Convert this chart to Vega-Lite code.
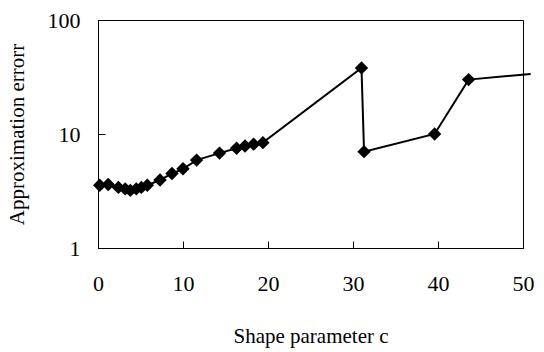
{
  "$schema": "https://vega.github.io/schema/vega-lite/v6.json",
  "width": 425,
  "height": 228,
  "autosize": {"type": "none"},
  "padding": {"left": 98, "top": 20, "right": 21, "bottom": 104},
  "background": "white",
  "config": {
    "view": {"stroke": "black", "strokeWidth": 1},
    "font": "Liberation Serif",
    "axis": {
      "domainColor": "black",
      "tickColor": "black",
      "grid": false,
      "labelFont": "Liberation Serif",
      "titleFont": "Liberation Serif",
      "labelColor": "black",
      "titleColor": "black",
      "labelFontSize": 22,
      "titleFontSize": 21,
      "titleFontWeight": "normal",
      "tickSize": -7
    }
  },
  "data": {
    "values": [
      {"c": 0.2, "err": 3.55, "marker": true},
      {"c": 1.2, "err": 3.6, "marker": true},
      {"c": 2.4, "err": 3.4, "marker": true},
      {"c": 3.2, "err": 3.3, "marker": true},
      {"c": 3.8, "err": 3.2, "marker": true},
      {"c": 4.5, "err": 3.3, "marker": true},
      {"c": 5.1, "err": 3.4, "marker": true},
      {"c": 5.8, "err": 3.55, "marker": true},
      {"c": 7.3, "err": 3.95, "marker": true},
      {"c": 8.7, "err": 4.5, "marker": true},
      {"c": 10.0, "err": 4.95, "marker": true},
      {"c": 11.6, "err": 5.9, "marker": true},
      {"c": 14.3, "err": 6.8, "marker": true},
      {"c": 16.3, "err": 7.5, "marker": true},
      {"c": 17.3, "err": 7.85, "marker": true},
      {"c": 18.3, "err": 8.15, "marker": true},
      {"c": 19.4, "err": 8.4, "marker": true},
      {"c": 31.0, "err": 38, "marker": true},
      {"c": 31.3, "err": 7.0, "marker": true},
      {"c": 39.6, "err": 10, "marker": true},
      {"c": 43.6, "err": 30, "marker": true},
      {"c": 50.9, "err": 33.6, "marker": false}
    ]
  },
  "encoding": {
    "x": {
      "field": "c",
      "type": "quantitative",
      "scale": {"domain": [0, 50], "nice": false, "zero": false},
      "axis": {"values": [0, 10, 20, 30, 40, 50], "title": "Shape parameter c", "labelPadding": 32, "titlePadding": 31, "labelFlush": false}
    },
    "y": {
      "field": "err",
      "type": "quantitative",
      "scale": {"type": "log", "domain": [1, 100], "nice": false},
      "axis": {"values": [1, 10, 100], "title": "Approximation errorr", "labelPadding": 25, "titlePadding": 20, "labelFlush": false}
    }
  },
  "layer": [
    {"mark": {"type": "line", "color": "black", "strokeWidth": 2, "clip": false}},
    {
      "transform": [{"filter": "datum.marker"}],
      "mark": {"type": "point", "shape": "diamond", "filled": true, "color": "black", "opacity": 1, "size": 180, "clip": false}
    }
  ]
}
